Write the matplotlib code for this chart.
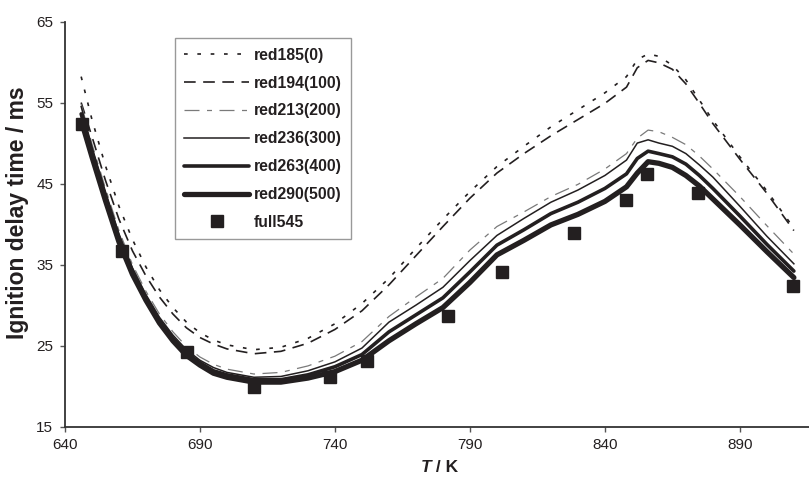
#!/usr/bin/env python
"""
Ignition delay time plot

Compares the ignition delay times of the reduced mechanisms (red185 ... red290)
against the full mechanism (full545) over the 640-910 K range.
"""

import matplotlib
matplotlib.use("Agg")
import matplotlib.pyplot as plt

# Temperatures (K) at which the reduced mechanisms were evaluated
temps = [646, 650, 655, 660, 665, 670, 675, 680, 685, 690, 695, 700, 710, 720,
         730, 740, 750, 760, 770, 780, 790, 800, 810, 820, 830, 840, 848, 852,
         856, 860, 865, 870, 875, 880, 890, 900, 910]

# Ignition delay times (ms) for each reduced mechanism
red185 = [58.2, 52.9, 47.2, 42.2, 38.1, 34.7, 31.9, 29.7, 27.9, 26.6, 25.7, 25.1,
          24.5, 24.8, 25.9, 27.7, 30.2, 33.3, 37.0, 40.6, 44.0, 47.1, 49.6, 52.0,
          54.1, 56.2, 58.2, 60.3, 61.0, 60.7, 59.6, 57.8, 55.3, 52.8, 48.3, 44.1, 39.5]
red194 = [55.0, 50.8, 45.4, 40.6, 36.7, 33.6, 31.0, 28.9, 27.2, 26.0, 25.2, 24.6,
          24.0, 24.3, 25.3, 27.0, 29.3, 32.5, 36.1, 39.7, 43.2, 46.3, 48.7, 50.9,
          52.9, 54.9, 56.9, 59.3, 60.2, 59.9, 59.1, 57.3, 54.9, 52.4, 48.0, 43.8, 39.2]
red213 = [54.8, 49.9, 44.4, 39.2, 35.0, 31.7, 28.9, 26.7, 24.9, 23.6, 22.7, 22.1,
          21.5, 21.7, 22.5, 23.7, 25.5, 28.6, 31.0, 33.3, 36.8, 39.7, 41.5, 43.4,
          44.9, 46.8, 48.7, 50.6, 51.6, 51.4, 50.7, 49.8, 48.4, 46.8, 43.4, 39.8, 36.3]
red236 = [54.5, 49.5, 44.0, 38.8, 34.6, 31.3, 28.5, 26.3, 24.5, 23.2, 22.3, 21.7,
          21.1, 21.2, 21.9, 23.0, 24.7, 27.9, 30.0, 32.2, 35.5, 38.6, 40.7, 42.7,
          44.2, 46.0, 47.9, 50.0, 50.4, 50.0, 49.6, 48.7, 47.3, 45.8, 42.2, 38.5, 35.1]
red263 = [53.6, 48.9, 43.4, 38.3, 34.2, 30.9, 28.1, 25.9, 24.1, 22.9, 21.9, 21.4,
          20.8, 20.8, 21.4, 22.4, 23.9, 26.7, 28.8, 30.9, 34.1, 37.4, 39.3, 41.3,
          42.7, 44.4, 46.2, 48.1, 49.0, 48.7, 48.3, 47.4, 46.0, 44.4, 41.0, 37.5, 34.2]
red290 = [52.8, 48.3, 42.9, 37.8, 33.8, 30.6, 27.8, 25.6, 23.8, 22.6, 21.6, 21.1,
          20.5, 20.5, 21.0, 21.8, 23.2, 25.6, 27.7, 29.7, 32.8, 36.2, 38.0, 39.9,
          41.2, 42.8, 44.6, 46.3, 47.7, 47.5, 47.0, 46.0, 44.7, 43.1, 39.9, 36.6, 33.4]

# Full mechanism results
full_temps = [646.2, 661.0, 685.1, 710.0, 738.1, 751.7, 781.7, 801.7, 828.6,
              847.8, 855.6, 874.3, 909.5]
full545 = [52.4, 36.7, 24.2, 19.9, 21.1, 23.1, 28.65, 34.1, 38.9, 43.0, 46.2,
           43.85, 32.4]

INK = "#231f20"


def plot_delay_times():
    """Draw the reduced mechanism curves and the full mechanism points."""
    plt.rcParams["font.family"] = ["Liberation Sans", "DejaVu Sans"]

    fig = plt.figure(figsize=(8.09, 4.79), dpi=100)
    ax = fig.add_axes([0.0803, 0.1092, 0.9197, 0.8459])

    ax.plot(temps, red185, color=INK, lw=1.2, dashes=(2.2, 5.8), label="red185(0)")
    ax.plot(temps, red194, color=INK, lw=1.2, dashes=(7, 4.5), label="red194(100)")
    ax.plot(temps, red213, color="#7a7a7a", lw=0.9, dashes=(12, 6, 4, 6),
            label="red213(200)")
    ax.plot(temps, red236, color=INK, lw=1.1, label="red236(300)")
    ax.plot(temps, red263, color=INK, lw=2.6, solid_capstyle="round",
            label="red263(400)")
    ax.plot(temps, red290, color=INK, lw=3.8, solid_capstyle="round",
            label="red290(500)")
    ax.plot(full_temps, full545, linestyle="none", marker="s", markersize=8.4,
            color=INK, label="full545")

    ax.set_xlim(640, 915.6)
    ax.set_ylim(15, 65)
    ax.set_xticks(range(640, 900, 50))
    ax.set_yticks(range(15, 66, 10))

    for side in ("top", "right"):
        ax.spines[side].set_visible(False)
    for side in ("left", "bottom"):
        ax.spines[side].set_color("#333333")
        ax.spines[side].set_linewidth(1.3)
    ax.tick_params(direction="out", length=3.5, width=1, color="#555555",
                   labelsize=11, labelcolor=INK, pad=5)

    ax.set_ylabel("Ignition delay time / ms", fontsize=16.5, fontweight="bold",
                  color=INK)
    ax.yaxis.set_label_coords(-0.048, 0.527)

    # x label: italic bold symbol followed by bold unit
    fig.text(431 / 809, 1 - 468 / 479, "T", fontsize=12.5, fontweight="bold",
             fontstyle="italic", color=INK, ha="right", va="center")
    fig.text(431 / 809, 1 - 468 / 479, " / K", fontsize=12.5, fontweight="bold",
             color=INK, ha="left", va="center")

    leg = ax.legend(loc="upper left", bbox_to_anchor=(0.1478, 0.9585),
                    borderaxespad=0, frameon=True, fancybox=False,
                    edgecolor="#808080", handlelength=4.1, handletextpad=0.35,
                    labelspacing=0.82, borderpad=0.6, numpoints=1,
                    prop={"size": 11.3, "weight": "bold"})
    leg.get_frame().set_linewidth(1.0)
    for text in leg.get_texts():
        text.set_color(INK)

    fig.savefig("out.png", dpi=100)


def main():
    plot_delay_times()


if __name__ == "__main__":
    main()
